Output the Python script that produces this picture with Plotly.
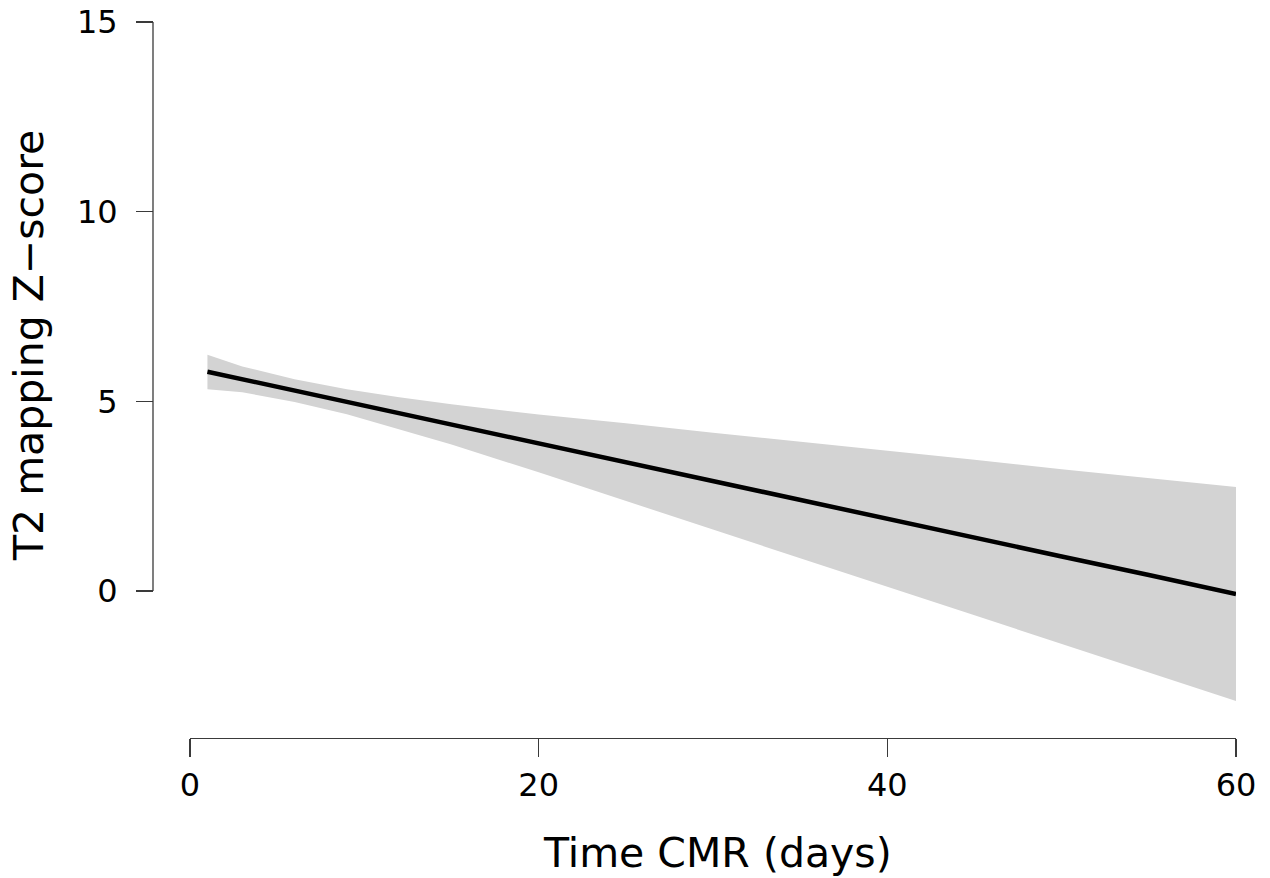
import plotly.graph_objects as go

# ---- data ----
time_days = [1, 3, 6, 9, 12, 15, 20, 25, 30, 35, 40, 45, 50, 55, 60]
fit_z = [5.78, 5.58, 5.28, 4.99, 4.69, 4.39, 3.89, 3.40, 2.90, 2.40, 1.91, 1.41, 0.91, 0.42, -0.08]
upper_z = [6.23, 5.92, 5.58, 5.32, 5.11, 4.92, 4.65, 4.42, 4.17, 3.93, 3.71, 3.46, 3.21, 2.98, 2.74]
lower_z = [5.32, 5.24, 4.98, 4.66, 4.27, 3.86, 3.13, 2.38, 1.63, 0.87, 0.11, -0.64, -1.39, -2.14, -2.90]

x_ticks = [0, 20, 40, 60]
y_ticks = [0, 5, 10, 15]
x_title = "Time CMR (days)"
y_title = "T2 mapping Z\u2212score"

# ---- layout geometry (window pixels; body margin removed below) ----
W, H = 1270, 878


def fx(px):
    return px / W


def fy(py):
    return 1 - py / H


X_LEFT_PX, X_RIGHT_PX = 190, 1236      # x = 0 .. 60
Y15_PX, Y0_PX = 22, 591                 # y = 15 .. 0
PX_PER_Y = (Y0_PX - Y15_PX) / 15.0
DOM_TOP_PX, DOM_BOT_PX = 4, 730
YAXIS_X_PX = 153
XAXIS_Y_PX = 738

y_hi = 15 + (Y15_PX - DOM_TOP_PX) / PX_PER_Y
y_lo = -(DOM_BOT_PX - Y0_PX) / PX_PER_Y

FONT = "DejaVu Sans"
AXIS_COLOR = "#3a3a3a"

fig = go.Figure()
fig.add_trace(go.Scatter(
    x=time_days + time_days[::-1],
    y=upper_z + lower_z[::-1],
    fill="toself", fillcolor="#d3d3d3",
    line=dict(width=0, color="#d3d3d3"),
    mode="lines", hoverinfo="skip", showlegend=False,
))
fig.add_trace(go.Scatter(
    x=time_days, y=fit_z, mode="lines",
    line=dict(color="black", width=4.5), showlegend=False,
))

fig.update_layout(
    width=W, height=H,
    margin=dict(l=0, r=0, t=0, b=0, autoexpand=False),
    paper_bgcolor="white", plot_bgcolor="white",
    font=dict(family=FONT, color="black"),
    xaxis=dict(
        domain=[fx(X_LEFT_PX), fx(X_RIGHT_PX)],
        range=[0, 60],
        anchor="free", position=fy(XAXIS_Y_PX),
        showgrid=False, zeroline=False, automargin=False,
        showline=True, linecolor=AXIS_COLOR, linewidth=1.3,
        ticks="outside", ticklen=18, tickwidth=1.3, tickcolor=AXIS_COLOR,
        tickvals=x_ticks, ticktext=[str(v) for v in x_ticks],
        tickfont=dict(size=32, family=FONT, color="black"),
        ticklabelstandoff=0, ticklabeloverflow="allow",
    ),
    yaxis=dict(
        domain=[fy(DOM_BOT_PX), fy(DOM_TOP_PX)],
        range=[y_lo, y_hi],
        anchor="free", position=fx(YAXIS_X_PX),
        showgrid=False, zeroline=False, showline=False, automargin=False,
        ticks="outside", ticklen=17, tickwidth=1.3, tickcolor=AXIS_COLOR,
        tickvals=y_ticks, ticktext=[str(v) for v in y_ticks],
        tickfont=dict(size=32, family=FONT, color="black"),
        ticklabelstandoff=12, ticklabeloverflow="allow",
    ),
    shapes=[dict(
        type="line", xref="paper", yref="y",
        x0=fx(YAXIS_X_PX), x1=fx(YAXIS_X_PX), y0=y_ticks[0], y1=y_ticks[-1],
        line=dict(color=AXIS_COLOR, width=1.3),
    )],
    annotations=[
        dict(text=x_title, xref="paper", yref="paper",
             x=fx(717), y=fy(853), xanchor="center", yanchor="middle",
             showarrow=False, font=dict(size=41, family=FONT, color="black")),
        dict(text=y_title, xref="paper", yref="paper",
             x=fx(29), y=fy(346), xanchor="center", yanchor="middle",
             textangle=-90, showarrow=False,
             font=dict(size=41, family=FONT, color="black")),
    ],
)

fig.write_html(
    "out.html",
    config={"displayModeBar": False, "staticPlot": True},
    post_script="document.body.style.margin='0';document.body.style.overflow='hidden';",
)
